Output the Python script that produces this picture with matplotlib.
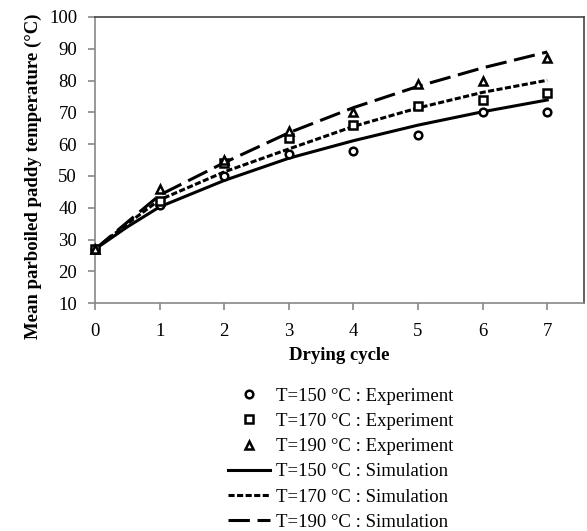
import numpy as np
import matplotlib.pyplot as plt

plt.rcParams['font.family'] = ['Liberation Serif', 'DejaVu Serif']

# experiment
cycles = [0, 1, 2, 3, 4, 5, 6, 7]
exp_150 = [27, 41, 50, 57, 58, 63, 70, 70]
exp_170 = [27, 42, 54, 62, 66, 72, 74, 76]
exp_190 = [27, 46, 55, 64, 70, 79, 80, 87]

# simulation
sim_x = [0, 0.5, 1, 2, 3, 4, 5, 6, 7]
sim_150 = [27, 34.0, 40.3, 48.6, 55.6, 61.1, 66.0, 70.2, 73.9]
sim_170 = [27, 35.0, 42.5, 51.3, 58.5, 65.6, 71.4, 76.3, 80.1]
sim_190 = [27, 35.5, 44.0, 54.2, 63.6, 71.5, 78.2, 84.0, 89.0]

fs = 13.5

fig = plt.figure(figsize=(5.87, 5.31), dpi=100)
ax = fig.add_axes([0.162, 0.429, 0.833, 0.539])

mk = dict(linestyle='none', markerfacecolor='white', markeredgecolor='black',
          markeredgewidth=1.8, markersize=5.5, clip_on=False, zorder=4)
ax.plot(cycles, exp_150, marker='o', label='T=150 °C : Experiment', **mk)
ax.plot(cycles, exp_170, marker='s', label='T=170 °C : Experiment', **mk)
ax.plot(cycles, exp_190, marker='^', label='T=190 °C : Experiment', **mk)

ax.plot(sim_x, sim_150, color='black', lw=2.2, label='T=150 °C : Simulation')
ax.plot(sim_x, sim_170, color='black', lw=2.2, linestyle=(0, (2.0, 0.8)),
        label='T=170 °C : Simulation')
ax.plot(sim_x, sim_190, color='black', lw=2.2, linestyle=(0, (7, 2.5)),
        label='T=190 °C : Simulation')

ax.set_xlim(0, 7.57)
ax.set_ylim(10, 100)
ax.set_xticks(range(8))
ax.set_yticks(range(10, 101, 10))
ax.tick_params(labelsize=fs, color='#888888', length=5, width=1.2)
ax.tick_params(axis='x', pad=9)
ax.tick_params(axis='y', pad=8)
for s in ax.spines.values():
    s.set_color('#888888')
    s.set_linewidth(1.2)
ax.spines['right'].set_color('#444444')
ax.spines['top'].set_color('#444444')

ax.set_xlabel('Drying cycle', fontsize=fs, fontweight='bold', labelpad=5)
ax.set_ylabel('Mean parboiled paddy temperature (°C)', fontsize=fs,
              fontweight='bold')
ax.yaxis.set_label_coords(-0.108, 0.444)

fig.legend(loc='upper left', bbox_to_anchor=(0.388, 0.27), frameon=False,
           fontsize=fs, handlelength=2.25, handletextpad=0.3,
           labelspacing=0.43, borderaxespad=0, borderpad=0)

fig.savefig('out.png', dpi=100)
